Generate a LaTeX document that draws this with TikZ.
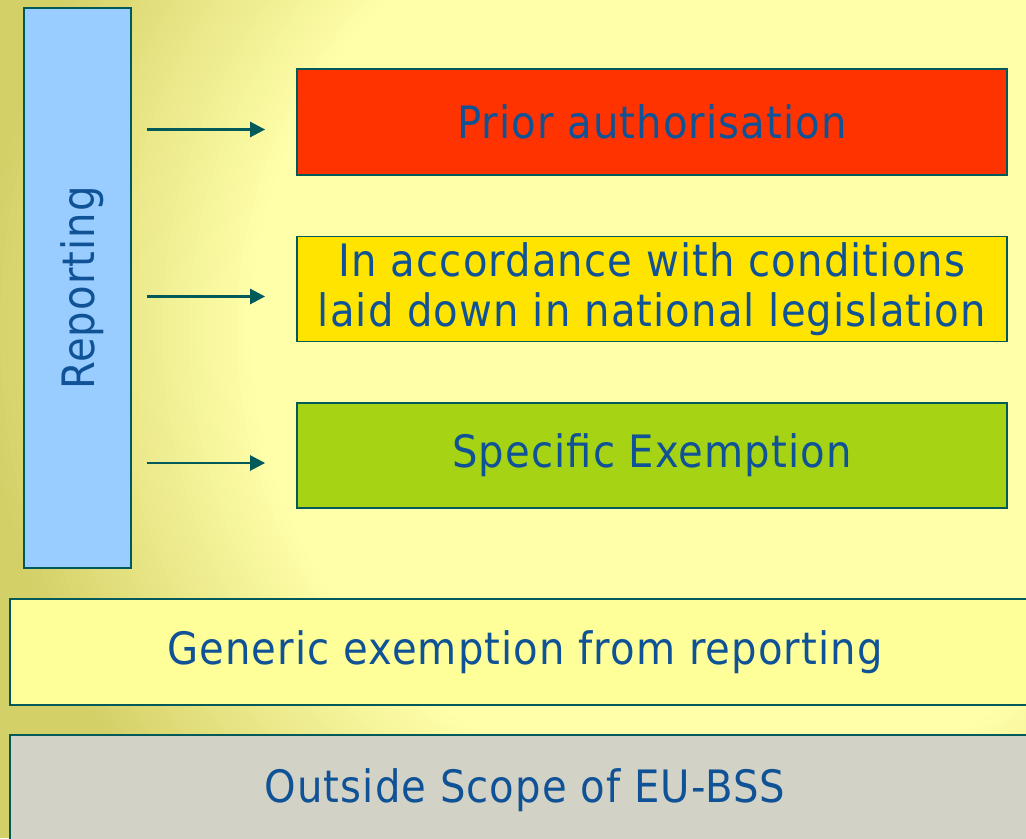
\documentclass[tikz,border=0pt]{standalone}
\usepackage{fontspec}
\setmainfont[LetterSpace=2.5]{DejaVu Sans Condensed}
\usetikzlibrary{arrows.meta,calc}
\tikzstyle{every picture}=[semithick,>={Triangle[length=0.3cm,width=0.3cm]}]
\definecolor{bglight}{RGB}{255,255,170}
\definecolor{bgdark}{RGB}{212,208,104}
\definecolor{edgeteal}{RGB}{0,90,90}
\definecolor{textblue}{RGB}{16,82,150}
\definecolor{skyblue}{RGB}{153,204,255}
\definecolor{priorred}{RGB}{255,51,0}
\definecolor{accyellow}{RGB}{255,228,0}
\definecolor{limegreen}{RGB}{166,212,20}
\definecolor{paleyellow}{RGB}{255,255,153}
\definecolor{scopegrey}{RGB}{210,210,198}
\tikzset{
    box/.style={draw=edgeteal,line width=1.1pt,inner sep=0pt,text=textblue,
        font=\fontsize{25.4}{28.4}\selectfont,minimum height=2.12cm},
    levelbox/.style={box,minimum width=14.2cm,align=center},
    floorbox/.style={box,minimum width=20.6cm},
    link/.style={->,edgeteal,line width=1.5pt}
}

\begin{document}
\begin{tikzpicture}[x=0.02cm,y=-0.02cm]
            \useasboundingbox (0,0) rectangle (1026,838);
            \clip (0,0) rectangle (1026,838);
            % background: dark rim, light middle
            \fill[bgdark] (0,0) rectangle (1026,838);
            \foreach \k [evaluate=\k as \pct using 2.5*\k,
                         evaluate=\k as \rad using 740-6.75*\k] in {0,...,40}
                \fill[bglight!\pct!bgdark] (720,330) circle[radius=\rad];

            \node[box,fill=skyblue,minimum width=2.14cm,minimum height=11.2cm] (rep) at (77.5,288) {};
            \node[text=textblue,font=\fontsize{25.4}{28.4}\selectfont,rotate=90] (replabel)
                at ($(rep.center)+(5,0)$) {Reporting};

            \node[levelbox,fill=priorred] (prior) at (652,122) {Prior authorisation};
            \node[levelbox,fill=accyellow,minimum height=2.1cm] (accord) at (652,289)
                {In accordance with conditions\\laid down in national legislation};
            \node[levelbox,fill=limegreen,minimum height=2.1cm] (spec) at (652,455.5) {Specific Exemption};

            \node[floorbox,fill=paleyellow] (generic) at (525,652) {Generic exemption from reporting};
            \node[floorbox,fill=scopegrey,minimum height=2.2cm] (outside) at (525,790) {Outside Scope of EU-BSS};

            \foreach \b in {prior,accord,spec}
                \draw[link] ($(rep.east |- \b.west)+(15,7.5)$) -- ($(\b.west)+(-31,7.5)$);
\end{tikzpicture}
\end{document}
